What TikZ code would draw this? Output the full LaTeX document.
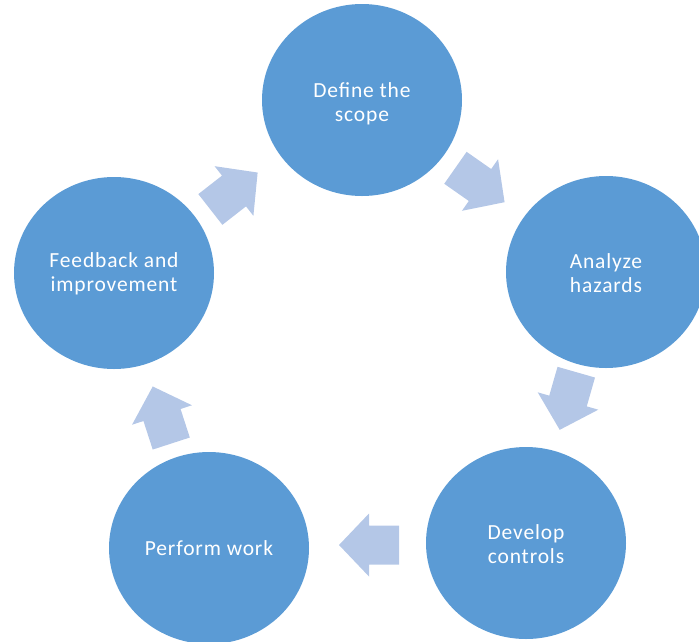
\documentclass[tikz,border=0pt]{standalone}
\usepackage{fontspec}
\setmainfont{Carlito}
\usetikzlibrary{shapes.geometric}
\definecolor{stepblue}{HTML}{5B9BD5}
\definecolor{arrowblue}{HTML}{B4C7E7}
\tikzset{
  x=1pt, y=-1pt,
  stepcircle/.style={ellipse, fill=stepblue, draw=none, minimum width=200pt, minimum height=192pt, inner sep=0pt},
  steptext/.style={text=white, align=center, inner sep=0pt, font=\fontsize{21.5}{24.5}\selectfont\addfontfeatures{LetterSpace=4}},
  blockarrow/.pic={\fill[arrowblue] (30,0) -- (0,31.5) -- (0,19.5) -- (-30,19.5) -- (-30,-19.5) -- (0,-19.5) -- (0,-31.5) -- cycle;}
}
\begin{document}
\begin{tikzpicture}
\useasboundingbox (0,0) rectangle (699,641);
\node[stepcircle] (scope) at (362,100) {};
\node[stepcircle] (hazards) at (606,272) {};
\node[stepcircle] (controls) at (526,543) {};
\node[stepcircle] (work) at (209,548) {};
\node[stepcircle] (feedback) at (114,273) {};
\node[steptext] (scopetext) at (362,104) {Define the\\scope};
\node[steptext] (hazardstext) at (606,273) {Analyze\\hazards};
\node[steptext] (controlstext) at (526,544) {Develop\\controls};
\node[steptext] (worktext) at (209,548) {Perform work};
\node[steptext] (feedbacktext) at (114,274) {Feedback and\\improvement};
\pic[rotate=-35] (a1) at (480,185) {blockarrow};
\pic[rotate=-106] (a2) at (568,401) {blockarrow};
\pic[rotate=180] (a3) at (369,545) {blockarrow};
\pic[rotate=108] (a4) at (162,415) {blockarrow};
\pic[rotate=38] (a5) at (234,191) {blockarrow};
\end{tikzpicture}
\end{document}
